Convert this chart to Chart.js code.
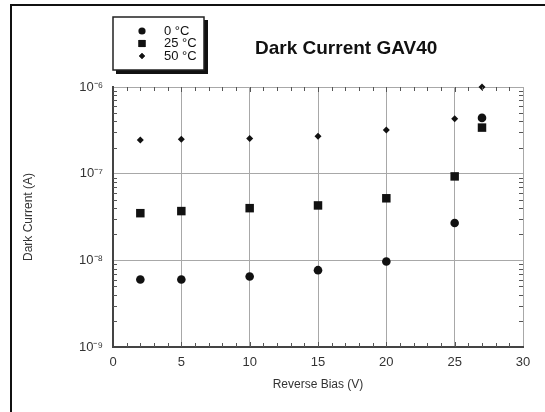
<!DOCTYPE html>
<html>
<head>
<meta charset="utf-8">
<script src="https://cdn.jsdelivr.net/npm/chart.js@4/dist/chart.umd.min.js"></script>
<style>
  html, body { margin: 0; padding: 0; background: #fff; }
  #wrap { position: relative; width: 545px; height: 412px; }
</style>
</head>
<body>
<div id="wrap"><canvas id="chart" width="545" height="412"></canvas></div>
<script>
// reverse bias (V)
const biasVolts = [2, 5, 10, 15, 20, 25, 27];

// dark current (A) per temperature
const current0C  = [6.0e-9, 6.0e-9, 6.5e-9, 7.7e-9, 9.7e-9, 2.7e-8, 4.4e-7];
const current25C = [3.5e-8, 3.7e-8, 4.0e-8, 4.3e-8, 5.2e-8, 9.3e-8, 3.4e-7];
const current50C = [2.45e-7, 2.5e-7, 2.55e-7, 2.7e-7, 3.2e-7, 4.3e-7, 1.0e-6];

const seriesLabels = ['0 °C', '25 °C', '50 °C'];
const yDecades = [1e-9, 1e-8, 1e-7, 1e-6];
const yDecadeLabels = ['10⁻⁹', '10⁻⁸', '10⁻⁷', '10⁻⁶'];

const FONT = '"Liberation Sans", Arial, sans-serif';

function toPoints(ys) {
    return biasVolts.map((x, i) => ({ x: x, y: ys[i] }));
}

// frame, minor ticks, legend box and title
const decorPlugin = {
    id: 'decor',
    beforeDraw(chart) {
        const ctx = chart.ctx;
        ctx.save();
        ctx.strokeStyle = '#111';
        ctx.lineWidth = 2;
        ctx.beginPath();
        ctx.moveTo(11, 412);
        ctx.lineTo(11, 5);
        ctx.lineTo(545, 5);
        ctx.stroke();
        ctx.restore();
    },
    afterDraw(chart) {
        const ctx = chart.ctx;
        const a = chart.chartArea;
        const xs = chart.scales.x, ys = chart.scales.y;
        ctx.save();
        ctx.strokeStyle = '#555';
        ctx.lineWidth = 1;
        ctx.beginPath();
        for (let v = 1; v < 30; v++) {
            const px = Math.round(xs.getPixelForValue(v)) + 0.5;
            const len = v % 5 === 0 ? 5 : 4;
            ctx.moveTo(px, a.bottom); ctx.lineTo(px, a.bottom - len);
            ctx.moveTo(px, a.top); ctx.lineTo(px, a.top + len);
        }
        for (let d = -9; d < -6; d++) {
            for (let m = 2; m <= 9; m++) {
                const py = Math.round(ys.getPixelForValue(m * Math.pow(10, d))) + 0.5;
                ctx.moveTo(a.left, py); ctx.lineTo(a.left + 4, py);
                ctx.moveTo(a.right, py); ctx.lineTo(a.right - 4, py);
            }
        }
        ctx.stroke();

        // legend box with drop shadow
        const bx = 113, by = 17, bw = 91, bh = 53;
        ctx.fillStyle = '#111';
        ctx.fillRect(bx + 3, by + 3, bw + 1, bh + 1);
        ctx.fillStyle = '#fff';
        ctx.fillRect(bx, by, bw, bh);
        ctx.strokeStyle = '#222';
        ctx.lineWidth = 1.5;
        ctx.strokeRect(bx, by, bw, bh);

        const rowY = [31, 43.5, 56];
        const legendRadius = [3.6, 5, 3];
        ctx.font = '13px ' + FONT;
        ctx.textBaseline = 'middle';
        ctx.textAlign = 'left';
        chart.data.datasets.forEach((ds, i) => {
            Chart.helpers.drawPoint(ctx, {
                pointStyle: ds.pointStyle,
                radius: legendRadius[i],
                rotation: 0,
                borderWidth: 0
            }, 142, rowY[i]);
            ctx.fillStyle = '#111';
            ctx.fill();
            ctx.fillText(ds.label, 164, rowY[i]);
        });

        ctx.font = 'bold 19px ' + FONT;
        ctx.fillStyle = '#111';
        ctx.fillText('Dark Current GAV40', 255, 49);
        ctx.restore();
    }
};

new Chart(document.getElementById('chart'), {
    type: 'scatter',
    data: {
        datasets: [{
            label: seriesLabels[0],
            data: toPoints(current0C),
            pointStyle: 'circle',
            pointRadius: 4.3,
            backgroundColor: '#111',
            borderColor: '#111',
            borderWidth: 0,
            clip: false
        }, {
            label: seriesLabels[1],
            data: toPoints(current25C),
            pointStyle: 'rect',
            pointRadius: 6,
            backgroundColor: '#111',
            borderColor: '#111',
            borderWidth: 0,
            clip: false
        }, {
            label: seriesLabels[2],
            data: toPoints(current50C),
            pointStyle: 'rectRot',
            pointRadius: 3.5,
            backgroundColor: '#111',
            borderColor: '#111',
            borderWidth: 0,
            clip: false
        }]
    },
    options: {
        responsive: false,
        animation: false,
        layout: { padding: { top: 87, right: 22, left: 0, bottom: 0 } },
        plugins: {
            legend: { display: false },
            title: { display: false },
            tooltip: { enabled: false }
        },
        scales: {
            x: {
                type: 'linear',
                min: 0,
                max: 30,
                afterFit(scale) { scale.height = 65; },
                ticks: { stepSize: 5, padding: 8, color: '#333', font: { family: FONT, size: 13 } },
                grid: { color: '#a8a8a8', lineWidth: 1, drawTicks: false },
                border: { color: '#444', width: 2 },
                title: {
                    display: true,
                    text: 'Reverse Bias (V)',
                    color: '#333',
                    font: { family: FONT, size: 12 },
                    padding: { top: 0, bottom: 20 }
                }
            },
            y: {
                type: 'logarithmic',
                min: 1e-9,
                max: 1e-6,
                afterFit(scale) { scale.width = 113; },
                afterBuildTicks(scale) {
                    scale.ticks = yDecades.map(v => ({ value: v }));
                },
                ticks: {
                    padding: 10,
                    color: '#333',
                    font: { family: FONT, size: 13 },
                    callback(value) {
                        const i = yDecades.findIndex(d => Math.abs(d - value) / d < 1e-6);
                        return i >= 0 ? yDecadeLabels[i] : '';
                    }
                },
                grid: { color: '#a8a8a8', lineWidth: 1, drawTicks: false },
                border: { color: '#444', width: 2 },
                title: {
                    display: true,
                    text: 'Dark Current (A)',
                    color: '#333',
                    font: { family: FONT, size: 12 },
                    padding: { top: 21, bottom: 0 }
                }
            }
        }
    },
    plugins: [decorPlugin]
});
</script>
</body>
</html>
